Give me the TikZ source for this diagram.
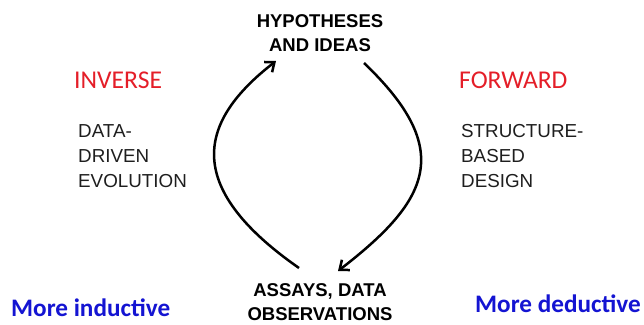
\documentclass[tikz,border=0pt]{standalone}
\usepackage{fontspec}
\setmainfont{Liberation Sans}
\newfontfamily\carlitofont{Carlito}
\usetikzlibrary{arrows.meta}
\definecolor{redtxt}{RGB}{228,30,40}
\definecolor{bluetxt}{RGB}{20,20,210}
\definecolor{graytxt}{RGB}{30,30,30}
\begin{document}
\begin{tikzpicture}[x=1pt,y=-1pt,
  hd/.style={font=\fontsize{18.5}{24.5}\selectfont\bfseries, align=center, text=black, inner sep=0pt},
  side/.style={font=\fontsize{18.8}{25}\selectfont, align=left, text=graytxt, anchor=north west, inner sep=0pt},
  dir/.style={font=\carlitofont\fontsize{25.6}{26}\selectfont, text=redtxt, anchor=west, inner sep=0pt},
  mode/.style={font=\carlitofont\bfseries\fontsize{25.2}{26}\selectfont, text=bluetxt, anchor=west, inner sep=0pt},
  arr/.style={line width=2.5pt, -{Straight Barb[length=8pt,width=13pt,line width=2.5pt]}}]
\useasboundingbox (0,0) rectangle (644,324);
\node[hd] (hyp) at (320,33) {HYPOTHESES\\AND IDEAS};
\node[hd] (obs) at (320,302) {ASSAYS, DATA\\OBSERVATIONS};
\node[dir] (inv) at (74,80) {INVERSE};
\node[dir] (fwd) at (459,80) {FORWARD};
\node[side] (ddE) at (78,124) {DATA-\\DRIVEN\\EVOLUTION};
\node[side] (sbd) at (461,124) {STRUCTURE-\\BASED\\DESIGN};
\node[mode] (ind) at (11,308) {More inductive};
\node[mode] (ded) at (475,304) {More deductive};
\coordinate (l1) at (299,268);
\coordinate (l2) at (276,61);
\coordinate (r1) at (364,63);
\coordinate (r2) at (338,271);
\draw[arr] (l1) .. controls (180,185) and (200,120) .. (l2);
\draw[arr] (r1) .. controls (455,150) and (430,200) .. (r2);
\end{tikzpicture}
\end{document}
